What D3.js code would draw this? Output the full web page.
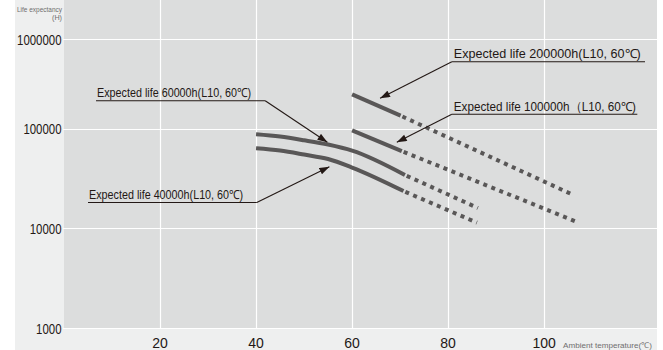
<!DOCTYPE html>
<html><head><meta charset="utf-8">
<script src="https://cdn.jsdelivr.net/npm/d3@7"></script>
<style>html,body{margin:0;padding:0;background:#fff;} svg{display:block;}</style>
</head><body>
<svg id="chart" width="663" height="350"></svg>
<script>
// ---- data ----
const yTickValues = [1000, 10000, 100000, 1000000];
const yTickLabels = ["1000", "10000", "100000", "1000000"];
const xTickValues = [20, 40, 60, 80, 100];
const xTickLabels = ["20", "40", "60", "80", "100"];

const temps60k = [40, 45, 50, 55, 60, 71];
const life60k = [87500, 83000, 76200, 69000, 60000, 34200];
const tempsDot60k = [71, 86.2];
const lifeDot60k = [34200, 15960];

const temps40k = [40, 45, 50, 55, 60, 70.7];
const life40k = [63300, 60100, 54800, 49400, 40600, 23600];
const tempsDot40k = [70.7, 86.0];
const lifeDot40k = [23600, 11380];

const temps100k = [60, 70.35];
const life100k = [95900, 59400];
const tempsDot100k = [70.35, 107.0];
const lifeDot100k = [59400, 11480];

const temps200k = [60, 70.1];
const life200k = [241000, 139000];
const tempsDot200k = [70.1, 106.1];
const lifeDot200k = [139000, 21530];

const annoLabels = ["Expected life 60000h(L10, 60\u2103)", "Expected life 40000h(L10, 60\u2103)",
                    "Expected life 100000h\uFF08L10, 60\u2103)", "Expected life 200000h(L10, 60\u2103)"];
const annoLineT0 = [6.67, 5.0, 80.77, 80.77];
const annoLineT1 = [41.9, 40.15, 119.4, 121.0];
const annoLineV = [204500, 18110, 144100, 557000];
const annoTipT = [54.85, 55.27, 69.31, 65.83];
const annoTipV = [72720, 41400, 72720, 217300];

// ---- layout ----
const W = 663, H = 350;
const svg = d3.select("#chart");
const x = d3.scaleLinear().domain([0, 123.5]).range([64, 657]);
const y = d3.scaleLog().domain([1000, 100000, 1000000]).range([328, 128.5, 39]);
const font = "'Liberation Sans', Arial, Helvetica, sans-serif";
const textColor = "#231815";
const lineColor = "#595757";

// backgrounds
svg.append("rect").attr("x", 15).attr("y", 0).attr("width", x(123.5) - 15).attr("height", H).attr("fill", "#eeefef");
svg.append("rect").attr("x", x(0)).attr("y", 0).attr("width", x(123.5) - x(0)).attr("height", y(1000)).attr("fill", "#dcdddd");

// grid
const grid = svg.append("g").attr("stroke", "#ffffff").attr("stroke-width", 1.2);
xTickValues.forEach(v => {
  const px = Math.round(x(v)) + 0.5;
  grid.append("line").attr("x1", px).attr("x2", px).attr("y1", 0).attr("y2", y(1000));
});
yTickValues.forEach(v => {
  const py = Math.round(y(v)) + 0.5;
  grid.append("line").attr("x1", x(0) - 1).attr("x2", x(123.5)).attr("y1", py).attr("y2", py);
});

// y tick labels (condensed)
yTickValues.forEach((v, i) => {
  const t = yTickLabels[i];
  svg.append("text").attr("x", 61.5).attr("y", y(v) + 5.5)
    .attr("text-anchor", "end").attr("font-family", font).attr("font-size", 14.5)
    .attr("fill", textColor).attr("textLength", t.length * 6.35).attr("lengthAdjust", "spacingAndGlyphs")
    .text(t);
});
// x tick labels
xTickValues.forEach((v, i) => {
  svg.append("text").attr("x", x(v)).attr("y", 347.5)
    .attr("text-anchor", "middle").attr("font-family", font).attr("font-size", 14)
    .attr("fill", textColor).text(xTickLabels[i]);
});

// axis titles
svg.append("text").attr("x", 62).attr("y", 12).attr("text-anchor", "end").attr("font-family", font)
  .attr("font-size", 8).attr("fill", "#6f6e6e").attr("textLength", 45).attr("lengthAdjust", "spacingAndGlyphs")
  .text("Life expectancy");
svg.append("text").attr("x", 62).attr("y", 20).attr("text-anchor", "end").attr("font-family", font)
  .attr("font-size", 8).attr("fill", "#6f6e6e").attr("textLength", 10).attr("lengthAdjust", "spacingAndGlyphs")
  .text("(H)");
svg.append("text").attr("x", 563).attr("y", 347.5).attr("text-anchor", "start").attr("font-family", font)
  .attr("font-size", 8).attr("fill", "#6f6e6e").attr("textLength", 89).attr("lengthAdjust", "spacingAndGlyphs")
  .text("Ambient temperature(\u2103)");

// series
const line = d3.line().x(d => x(d[0])).y(d => y(d[1])).curve(d3.curveMonotoneX);
const solids = [[temps60k, life60k], [temps40k, life40k], [temps100k, life100k], [temps200k, life200k]];
const dots = [[tempsDot60k, lifeDot60k], [tempsDot40k, lifeDot40k], [tempsDot100k, lifeDot100k], [tempsDot200k, lifeDot200k]];
solids.forEach(([ts, vs]) => {
  svg.append("path").attr("d", line(ts.map((t, i) => [t, vs[i]])))
    .attr("fill", "none").attr("stroke", lineColor).attr("stroke-width", 4);
});
dots.forEach(([ts, vs]) => {
  svg.append("path").attr("d", line(ts.map((t, i) => [t, vs[i]])))
    .attr("fill", "none").attr("stroke", lineColor).attr("stroke-width", 4)
    .attr("stroke-dasharray", "4 4.6").attr("stroke-dashoffset", 6.6);
});

// arrow marker
svg.append("defs").append("marker").attr("id", "arrow").attr("viewBox", "0 0 10 7")
  .attr("refX", 10).attr("refY", 3.5).attr("markerWidth", 11).attr("markerHeight", 7)
  .attr("markerUnits", "userSpaceOnUse").attr("orient", "auto")
  .append("path").attr("d", "M0,0L10,3.5L0,7Z").attr("fill", textColor);

// annotations
const annoTextLen = [154, 154, 182, 187];
const annoRight = [true, true, false, false];
annoLabels.forEach((lab, i) => {
  const x0 = x(annoLineT0[i]), x1 = x(annoLineT1[i]), ly = y(annoLineV[i]);
  const sx = annoRight[i] ? x1 : x0;
  svg.append("line").attr("x1", x0).attr("x2", x1).attr("y1", ly).attr("y2", ly)
    .attr("stroke", textColor).attr("stroke-width", 1.1);
  svg.append("line").attr("x1", sx).attr("y1", ly).attr("x2", x(annoTipT[i])).attr("y2", y(annoTipV[i]))
    .attr("stroke", textColor).attr("stroke-width", 1.1).attr("marker-end", "url(#arrow)");
  svg.append("text").attr("x", x0 + (annoRight[i] ? 1 : 2)).attr("y", ly - 3.7)
    .attr("font-family", font).attr("font-size", 12.5).attr("fill", textColor)
    .attr("textLength", annoTextLen[i]).attr("lengthAdjust", "spacingAndGlyphs").text(lab);
});
</script>
</body></html>
